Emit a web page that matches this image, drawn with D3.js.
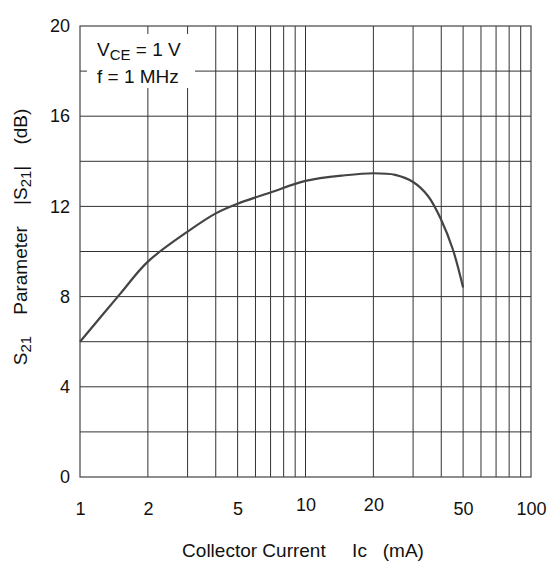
<!DOCTYPE html>
<html lang="en">
<head>
  <meta charset="UTF-8">
  <title>S21 vs Collector Current</title>
  <style>
    body { margin: 0; background: #fff; }
    text { font-family: "Liberation Sans", Arial, sans-serif; fill: #111; }
  </style>
</head>
<body>
  <script src="https://d3js.org/d3.v7.min.js"></script>
  <script>
    // Curve
    let current = [1, 1.5, 2, 3, 4, 5, 7, 10, 15, 20, 25, 30, 35, 40, 45, 50];
    let s21 = [6.0, 8.1, 9.55, 10.88, 11.69, 12.12, 12.62, 13.13, 13.38, 13.47, 13.4, 13.08, 12.45, 11.4, 10.1, 8.4];

    let xTicks = [1, 2, 5, 10, 20, 50, 100];
    let xGrid = [2, 3, 4, 5, 6, 7, 8, 9, 10, 20, 30, 40, 50, 60, 70, 80, 90];
    let yTicks = [0, 4, 8, 12, 16, 20];
    let yGrid = [2, 4, 6, 8, 10, 12, 14, 16, 18];

    let svgWidth = 551;
    let svgHeight = 562;
    let margin = { top: 26, right: 20, bottom: 85, left: 80 };
    let chartWidth = 531 - margin.left;
    let chartHeight = 477 - margin.top;

    let svg = d3.select("body")
      .append("svg")
      .attr("width", svgWidth)
      .attr("height", svgHeight);

    let chartGroup = svg.append("g")
      .attr("transform", `translate(${margin.left}, ${margin.top})`);

    let x = d3.scaleLog().domain([1, 100]).range([0, chartWidth]);
    let y = d3.scaleLinear().domain([0, 20]).range([chartHeight, 0]);

    // grid
    chartGroup.selectAll(".vgrid")
      .data(xGrid)
      .enter()
      .append("line")
      .attr("class", "vgrid")
      .attr("x1", d => x(d)).attr("x2", d => x(d))
      .attr("y1", 0).attr("y2", chartHeight)
      .attr("stroke", "#333")
      .attr("stroke-width", 1);

    chartGroup.selectAll(".hgrid")
      .data(yGrid)
      .enter()
      .append("line")
      .attr("class", "hgrid")
      .attr("x1", 0).attr("x2", chartWidth)
      .attr("y1", d => y(d)).attr("y2", d => y(d))
      .attr("stroke", "#333")
      .attr("stroke-width", 1);

    // white box behind the conditions text
    chartGroup.append("rect")
      .attr("x", 7).attr("y", 8)
      .attr("width", 108).attr("height", 54)
      .attr("fill", "#fff");

    // frame
    chartGroup.append("rect")
      .attr("x", 0).attr("y", 0)
      .attr("width", chartWidth).attr("height", chartHeight)
      .attr("fill", "none")
      .attr("stroke", "#444")
      .attr("stroke-width", 1.2);

    // curve
    let line = d3.line()
      .x((d, i) => x(current[i]))
      .y(d => y(d))
      .curve(d3.curveCatmullRom.alpha(0.5));

    chartGroup.append("path")
      .datum(s21)
      .attr("d", line)
      .attr("fill", "none")
      .attr("stroke", "#444")
      .attr("stroke-width", 2.2);

    // axes labels
    let xAxis = d3.axisBottom(x).tickValues(xTicks).tickFormat(d3.format("d")).tickSize(0).tickPadding(25);
    let gx = chartGroup.append("g")
      .attr("transform", `translate(0, ${chartHeight})`)
      .call(xAxis);
    gx.select(".domain").remove();
    gx.selectAll("text")
      .style("font-size", "18px")
      .style("font-family", "'Liberation Sans', Arial, sans-serif")
      .attr("dy", d => (d === 10 || d === 20) ? "0.5em" : "0.71em");

    let yAxis = d3.axisLeft(y).tickValues(yTicks).tickSize(0).tickPadding(10);
    let gy = chartGroup.append("g").call(yAxis);
    gy.select(".domain").remove();
    gy.selectAll("text")
      .style("font-size", "18px")
      .style("font-family", "'Liberation Sans', Arial, sans-serif");

    // conditions
    let cond = chartGroup.append("text")
      .attr("x", 17).attr("y", 30)
      .style("font-size", "19px");
    cond.append("tspan").text("V");
    cond.append("tspan").attr("dy", 4).style("font-size", "15px").text("CE");
    cond.append("tspan").attr("dy", -4).text(" = 1 V");

    chartGroup.append("text")
      .attr("x", 17).attr("y", 57)
      .style("font-size", "19px")
      .text("f = 1 MHz");

    // axis titles
    svg.append("text")
      .attr("x", 303).attr("y", 557)
      .attr("text-anchor", "middle")
      .style("font-size", "19px")
      .attr("xml:space", "preserve")
      .text("Collector Current     Ic   (mA)");

    let yTitle = svg.append("text")
      .attr("transform", "translate(27, 237) rotate(-90)")
      .attr("text-anchor", "middle")
      .attr("xml:space", "preserve")
      .style("font-size", "19px");
    yTitle.append("tspan").text("S");
    yTitle.append("tspan").attr("dy", 4).style("font-size", "15px").text("21");
    yTitle.append("tspan").attr("dy", -4).text("    Parameter    |S");
    yTitle.append("tspan").attr("dy", 4).style("font-size", "15px").text("21");
    yTitle.append("tspan").attr("dy", -4).text("|    (dB)");
  </script>
</body>
</html>
